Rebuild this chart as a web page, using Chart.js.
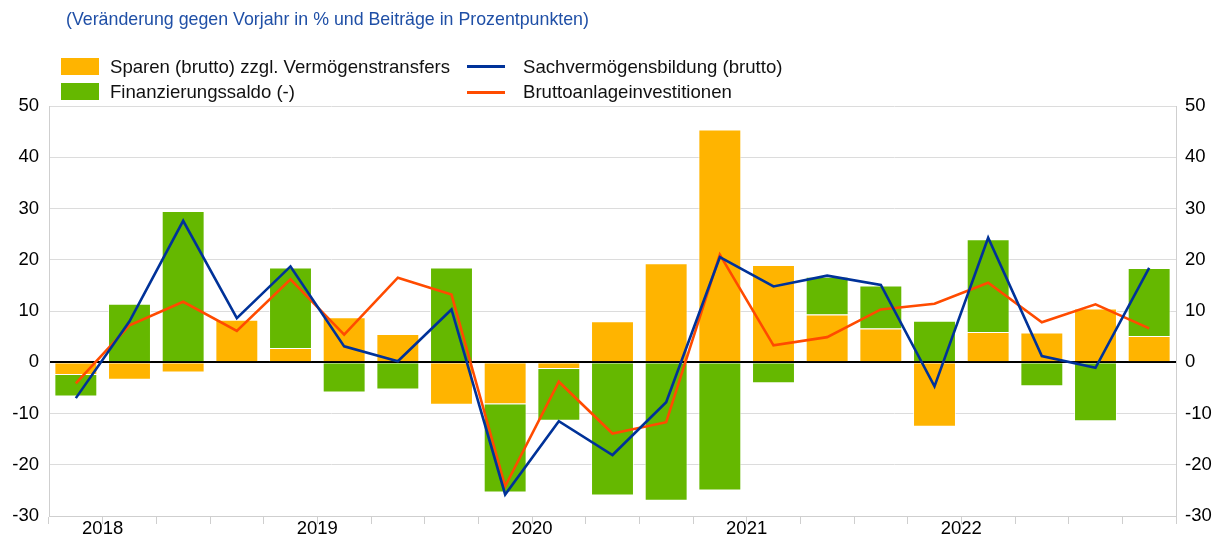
<!DOCTYPE html>
<html>
<head>
<meta charset="utf-8">
<script src="https://cdn.jsdelivr.net/npm/chart.js@4.4.0/dist/chart.umd.min.js"></script>
<style>
  body { margin: 0; background: #fff; font-family: Arial, "Liberation Sans", sans-serif; }
  #wrap { position: relative; width: 1224px; height: 538px; }
  #title { position: absolute; left: 66px; top: 9px; font-size: 17.8px; color: #1f4fa6; white-space: nowrap; }
  .lg { position: absolute; font-size: 18.6px; color: #111; white-space: nowrap; line-height: 20px; }
  .box { position: absolute; width: 38px; height: 17px; }
  .ln { position: absolute; width: 38px; height: 3px; }
  canvas { position: absolute; left: 0; top: 0; }
</style>
</head>
<body>
<div id="wrap">
  <canvas id="myChart" width="1224" height="538"></canvas>
  <div id="title">(Veränderung gegen Vorjahr in % und Beiträge in Prozentpunkten)</div>
  <div class="box" style="left:61px;top:58px;background:#FFB400"></div>
  <div class="lg" style="left:110px;top:57px">Sparen (brutto) zzgl. Vermögenstransfers</div>
  <div class="box" style="left:61px;top:83px;background:#65B800"></div>
  <div class="lg" style="left:110px;top:82px">Finanzierungssaldo (-)</div>
  <div class="ln" style="left:467px;top:65px;background:#003299"></div>
  <div class="lg" style="left:523px;top:57px">Sachvermögensbildung (brutto)</div>
  <div class="ln" style="left:467px;top:91px;background:#FF4B00"></div>
  <div class="lg" style="left:523px;top:82px">Bruttoanlageinvestitionen</div>
</div>
<script>
// quarters 2018Q2 .. 2023Q2
const quarters = [
  '2018Q2', '2018Q3', '2018Q4',
  '2019Q1', '2019Q2', '2019Q3', '2019Q4',
  '2020Q1', '2020Q2', '2020Q3', '2020Q4',
  '2021Q1', '2021Q2', '2021Q3', '2021Q4',
  '2022Q1', '2022Q2', '2022Q3', '2022Q4',
  '2023Q1', '2023Q2'
];

// bars (stacked)
const sparen = [-2.5, -3.4, -2.0, 8.3, 2.8, 8.8, 5.5, -8.3, -8.2, -1.3, 8.0, 19.3, 45.4, 19.0, 9.3, 6.6, -12.6, 5.9, 5.8, 10.5, 5.1];
const finanzierung = [-4.2, 11.4, 29.5, 0, 15.7, -5.9, -5.3, 18.5, -17.2, -10.1, -26.0, -27.0, -25.0, -4.1, 7.4, 8.4, 8.1, 18.1, -4.7, -11.5, 13.3];

// lines
const sachvermoegen = [-7.0, 8.0, 27.6, 8.6, 18.7, 3.1, 0.2, 10.3, -25.8, -11.5, -18.1, -7.8, 20.5, 14.8, 16.9, 15.1, -4.7, 24.3, 1.2, -1.1, 18.4];
const bruttoanlage = [-4.1, 7.2, 11.8, 6.1, 16.2, 5.4, 16.5, 13.2, -24.2, -3.8, -13.9, -11.7, 21.0, 3.3, 4.9, 10.3, 11.4, 15.5, 7.8, 11.3, 6.6];

const yTicks = [50, 40, 30, 20, 10, 0, -10, -20, -30];

const tickFont = { family: 'Arial, "Liberation Sans", sans-serif', size: 18.5 };
const catWidth = (1176 - 48) / quarters.length;

const ctx = document.getElementById('myChart').getContext('2d');
new Chart(ctx, {
  type: 'bar',
  data: {
    labels: quarters,
    datasets: [
      {
        type: 'line', label: 'Sachvermögensbildung (brutto)', data: sachvermoegen,
        borderColor: '#003299', borderWidth: 2.6, pointRadius: 0, tension: 0,
        stack: 'l1', order: 0
      },
      {
        type: 'line', label: 'Bruttoanlageinvestitionen', data: bruttoanlage,
        borderColor: '#FF4B00', borderWidth: 2.6, pointRadius: 0, tension: 0,
        stack: 'l2', order: 0
      },
      {
        label: 'Sparen (brutto) zzgl. Vermögenstransfers', data: sparen,
        backgroundColor: '#FFB400', borderColor: 'rgba(255,255,255,0.7)', borderWidth: 1,
        stack: 'bars', order: 1
      },
      {
        label: 'Finanzierungssaldo (-)', data: finanzierung,
        backgroundColor: '#65B800', borderColor: 'rgba(255,255,255,0.7)', borderWidth: 1,
        stack: 'bars', order: 1
      }
    ]
  },
  options: {
    responsive: false,
    animation: false,
    layout: { padding: { top: 106, left: 0, right: 0, bottom: 0 } },
    datasets: { bar: { categoryPercentage: 1, barPercentage: 0.8 } },
    plugins: { legend: { display: false }, tooltip: { enabled: false } },
    scales: {
      x: {
        stacked: true,
        offset: true,
        grid: { offset: true, drawOnChartArea: false, drawTicks: true, tickLength: 8, color: '#cfcfcf' },
        border: { color: '#cfcfcf' },
        ticks: {
          autoSkip: false, maxRotation: 0, padding: -6,
          labelOffset: -catWidth / 2,
          color: '#000', font: tickFont,
          callback: function (v) {
            const q = quarters[v];
            return q.endsWith('Q3') ? q.slice(0, 4) : '';
          }
        },
        afterFit: (s) => { s.height = 22; }
      },
      y: {
        stacked: true,
        min: -30, max: 50,
        afterBuildTicks: (s) => { s.ticks = yTicks.map(v => ({ value: v })); },
        grid: {
          drawTicks: false,
          color: (c) => c.tick && c.tick.value === 0 ? '#000' : '#dcdcdc',
          lineWidth: (c) => c.tick && c.tick.value === 0 ? 2 : 1
        },
        border: { color: '#cfcfcf' },
        ticks: { padding: 10, color: '#000', font: tickFont },
        afterFit: (s) => { s.width = 49; }
      },
      y2: {
        position: 'right',
        min: -30, max: 50,
        afterBuildTicks: (s) => { s.ticks = yTicks.map(v => ({ value: v })); },
        grid: { drawOnChartArea: false, drawTicks: false },
        border: { color: '#cfcfcf' },
        ticks: { padding: 9, color: '#000', font: tickFont },
        afterFit: (s) => { s.width = 48; }
      }
    }
  }
});
</script>
</body>
</html>
